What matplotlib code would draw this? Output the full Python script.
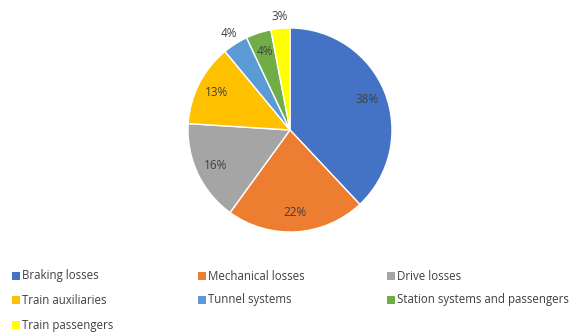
import matplotlib.pyplot as plt
from matplotlib.patches import Rectangle
import numpy as np

labels = ['Braking losses', 'Mechanical losses', 'Drive losses', 'Train auxiliaries',
          'Tunnel systems', 'Station systems and passengers', 'Train passengers']
shares = [38, 22, 16, 13, 4, 4, 3]
colors = ['#4472C4', '#ED7D31', '#A5A5A5', '#FFC000', '#5B9BD5', '#70AD47', '#FFFF00']
outside = ['Tunnel systems', 'Train passengers']  # labels drawn outside the pie

plt.rcParams['font.family'] = ['Open Sans', 'DejaVu Sans']

W, H = 574, 332
fig = plt.figure(figsize=(W / 100, H / 100), dpi=100)

# pie centre (290,130) px from top-left, radius ~102 px
cx, cy, r = 290, 130, 102
ax = fig.add_axes([(cx - r) / W, (H - cy - r) / H, 2 * r / W, 2 * r / H])
wedges, _ = ax.pie(shares, colors=colors, startangle=90, counterclock=False,
                   radius=1, wedgeprops=dict(edgecolor='white', linewidth=1))
ax.set_xlim(-1, 1)
ax.set_ylim(-1, 1)
ax.axis('off')

for w, lab, v in zip(wedges, labels, shares):
    ang = np.deg2rad((w.theta1 + w.theta2) / 2)
    d = 1.12 if lab in outside else 0.81
    ax.text(d * np.cos(ang), d * np.sin(ang), f'{v}%', ha='center', va='center',
            fontsize=8.5, color='#404040', clip_on=False)

# legend, 3 columns, row-major
col_x = [12, 198, 387]
row_y = [276, 300, 325]
for i, (lab, c) in enumerate(zip(labels, colors)):
    x = col_x[i % 3]
    y = row_y[i // 3]
    fig.patches.append(Rectangle((x / W, (H - y - 4) / H), 8 / W, 8 / H,
                                 transform=fig.transFigure, facecolor=c, edgecolor='none'))
    fig.text((x + 10) / W, (H - y) / H, lab, fontsize=8.3, color='#404040',
             ha='left', va='center')

fig.savefig('out.png', dpi=100)
